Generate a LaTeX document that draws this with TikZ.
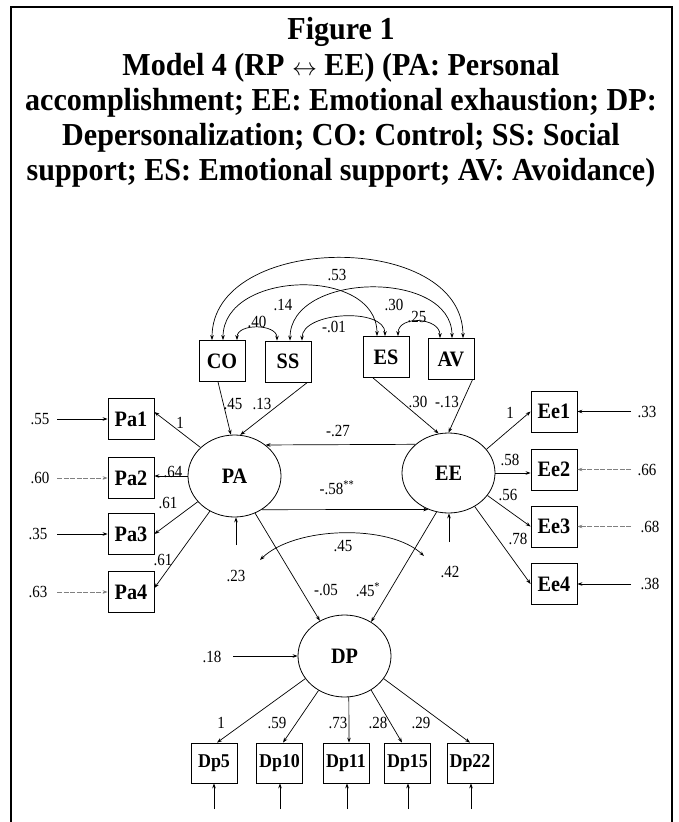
\documentclass[tikz,border=0pt]{standalone}
\usepackage{fontspec}
\setmainfont{Liberation Serif}
\newfontfamily\numf[FakeStretch=0.88]{Liberation Serif}
\newfontfamily\boxf[FakeStretch=0.92]{Liberation Serif}
\newfontfamily\ttlf[FakeStretch=0.94]{Liberation Serif}
\usetikzlibrary{arrows.meta,shapes.geometric,calc}
\begin{document}
\begin{tikzpicture}[x=1pt,y=-1pt,
 box/.style={draw,line width=0.8pt,minimum width=46pt,minimum height=41pt,inner sep=0pt,font=\boxf\bfseries\fontsize{22}{22}\selectfont},
 dpbox/.style={box,minimum height=40pt,font=\boxf\bfseries\fontsize{19.5}{19.5}\selectfont},
 lat/.style={ellipse,draw,line width=0.8pt,minimum width=93pt,minimum height=82pt,inner sep=0pt,font=\boxf\bfseries\fontsize{22}{22}\selectfont},
 num/.style={inner sep=1pt,font=\numf\fontsize{17}{17}\selectfont},
 arr/.style={line width=0.7pt,-{Stealth[length=5pt,width=3.6pt]}},
 darr/.style={line width=0.7pt,{Stealth[length=5pt,width=3.6pt]}-{Stealth[length=5pt,width=3.6pt]}},
 faint/.style={gray,dash pattern=on 5pt off 1.5pt},
 ttl/.style={anchor=base,inner sep=0pt,font=\ttlf\bfseries\fontsize{32}{35}\selectfont}]
\useasboundingbox (0,0) rectangle (678,822);
\draw[line width=2.4pt] (11.2,822) -- (11.2,7.2) -- (672,7.2) -- (672,822);
% title
\node[ttl] (t1) at (341,39.5) {Figure 1};
\node[ttl] (t2) at (341,75) {Model 4 (RP $\leftrightarrow$ EE) (PA: Personal};
\node[ttl] (t3) at (341,110) {accomplishment; EE: Emotional exhaustion; DP:};
\node[ttl] (t4) at (341,145) {Depersonalization; CO: Control; SS: Social};
\node[ttl] (t5) at (341,180) {support; ES: Emotional support; AV: Avoidance)};
% nodes
\node[box] (CO) at (222,361) {CO};
\node[box] (SS) at (288,361.5) {SS};
\node[box] (ES) at (386,357) {ES};
\node[box] (AV) at (451,359) {AV};
\node[lat] (PA) at (234.5,476) {PA};
\node[lat,minimum height=80pt] (EE) at (448.5,473) {EE};
\node[lat] (DP) at (344.5,656) {DP};
\node[box] (Pa1) at (131,419) {Pa1};
\node[box] (Pa2) at (131,478) {Pa2};
\node[box] (Pa3) at (131,534) {Pa3};
\node[box] (Pa4) at (131,592) {Pa4};
\node[box] (Ee1) at (554,411.5) {Ee1};
\node[box] (Ee2) at (554,469.5) {Ee2};
\node[box] (Ee3) at (554,526.5) {Ee3};
\node[box] (Ee4) at (554,584) {Ee4};
\node[dpbox] (Dp5) at (214,763) {Dp5};
\node[dpbox] (Dp10) at (279.5,763) {Dp10};
\node[dpbox] (Dp11) at (346,763) {Dp11};
\node[dpbox] (Dp15) at (407.5,763) {Dp15};
\node[dpbox] (Dp22) at (470,763) {Dp22};
% covariance arcs among predictors
\draw[darr] ([xshift=-10pt]CO.north) .. controls +(0,-108) and +(0,-108) .. ([xshift=12pt]AV.north);
\draw[darr] ([xshift=1pt]CO.north) .. controls +(0,-70) and +(0,-70) .. ([xshift=-9pt]ES.north);
\draw[darr] ([xshift=2pt]SS.north) .. controls +(0,-69) and +(0,-69) .. ([xshift=1pt]AV.north);
\draw[darr] ([xshift=15pt]CO.north) .. controls +(0,-17) and +(0,-17) .. ([xshift=-11pt]SS.north);
\draw[darr] ([xshift=14pt]SS.north) .. controls +(0,-29) and +(0,-29) .. ([xshift=-1pt]ES.north);
\draw[darr] ([xshift=12pt]ES.north) .. controls +(0,-21) and +(0,-21) .. ([xshift=-11pt]AV.north);
\node[num] (n53) at (337,275) {.53};
\node[num] (n14) at (283,305) {.14};
\node[num] (n30a) at (394,305) {.30};
\node[num] (n40) at (257,322) {.40};
\node[num] (n01) at (334,327) {-.01};
\node[num] (n25) at (417,317) {.25};
% predictors to latent
\draw[arr] ([xshift=-4pt]CO.south) -- (PA.95);
\draw[arr] ([xshift=-4pt]SS.south east) -- (PA.82);
\draw[arr] ([xshift=-13pt]ES.south) -- (EE.104);
\draw[arr] ([xshift=-2pt]AV.south east) -- (EE.north);
\node[num] (n45a) at (233,404) {.45};
\node[num] (n13a) at (262,404) {.13};
\node[num] (n30b) at (418,402) {.30};
\node[num] (n13b) at (447,402) {-.13};
% PA <-> EE
\draw[arr] (EE.139.5) -- (PA.45);
\draw[arr] (PA.-51) -- (EE.241);
\node[num] (n27) at (338,431) {-.27};
\node[num] (n58) at (337,488) {-.58\textsuperscript{**}};
% to DP
\draw[arr] (PA.-61) -- (DP.125);
\draw[arr] (EE.253) -- (DP.52);
\node[num] (n05) at (326,590) {-.05};
\node[num] (n45c) at (368,590) {.45\textsuperscript{*}};
% disturbances
\coordinate (zPA) at (236,545);
\coordinate (zEE) at (449,542);
\draw[arr] (zPA) -- (zPA |- PA.south);
\draw[arr] (zEE) -- (zEE |- EE.south);
\node[num] (n23) at (236,576) {.23};
\node[num] (n42) at (450,572) {.42};
\coordinate (c1) at (260,560);
\coordinate (c2) at (424,556);
\draw[darr] (c1) .. controls (295,526) and (390,524) .. (c2);
\node[num] (n45b) at (343,546) {.45};
\coordinate (s18) at (233,656);
\draw[arr] (s18) -- (DP.west);
\node[num] (n18) at (212,657) {.18};
% PA indicators
\draw[arr] (PA.140) -- ([yshift=7pt]Pa1.east);
\draw[arr] (PA.west) -- (PA.west -| Pa2.east);
\draw[arr] (PA.215) -- (Pa3.east);
\draw[arr] (PA.235) -- ([yshift=4pt]Pa4.east);
\node[num] (l1a) at (180,423) {1};
\node[num] (l64) at (173,472) {.64};
\node[num] (l61a) at (168,503) {.61};
\node[num] (l61b) at (163,560) {.61};
% EE indicators
\draw[arr] (EE.32) -- (Ee1.west);
\draw[arr] (EE.east) -- (EE.east -| Ee2.west);
\draw[arr] (EE.-30) -- (Ee3.west);
\draw[arr] (EE.-52) -- (Ee4.west);
\node[num] (l1b) at (510,413) {1};
\node[num] (l58) at (510,460) {.58};
\node[num] (l56) at (508,495) {.56};
\node[num] (l78) at (518,539) {.78};
% DP indicators
\draw[arr] (DP.210) -- ([xshift=3pt]Dp5.north);
\draw[arr] (DP.233) -- ([xshift=3.5pt]Dp10.north);
\draw[arr] (DP.-84) -- ([xshift=3pt]Dp11.north);
\draw[arr] (DP.-52) -- ([xshift=-5.5pt]Dp15.north);
\draw[arr] (DP.-30) -- (Dp22.north);
\node[num] (d1) at (221,723) {1};
\node[num] (d59) at (277,723) {.59};
\node[num] (d73) at (338,723) {.73};
\node[num] (d28) at (378,723) {.28};
\node[num] (d29) at (421,723) {.29};
% errors Pa
\coordinate (ePa1) at (57,419);
\coordinate (ePa2) at (57,478);
\coordinate (ePa3) at (57,534);
\coordinate (ePa4) at (57,592);
\draw[arr] (ePa1) -- (Pa1.west);
\draw[arr,faint] (ePa2) -- (Pa2.west);
\draw[arr] (ePa3) -- (Pa3.west);
\draw[arr,faint] (ePa4) -- (Pa4.west);
\node[num] (e55) at (40,419) {.55};
\node[num] (e60) at (40,478) {.60};
\node[num] (e35) at (38,534) {.35};
\node[num] (e63) at (38,592) {.63};
% errors Ee
\coordinate (eEe1) at (631,411.5);
\coordinate (eEe2) at (631,469.5);
\coordinate (eEe3) at (631,526.5);
\coordinate (eEe4) at (631,584);
\draw[arr] (eEe1) -- (Ee1.east);
\draw[arr,faint] (eEe2) -- (Ee2.east);
\draw[arr,faint] (eEe3) -- (Ee3.east);
\draw[arr] (eEe4) -- (Ee4.east);
\node[num] (e33) at (647,411.5) {.33};
\node[num] (e66) at (647,469.5) {.66};
\node[num] (e68) at (650,526.5) {.68};
\node[num] (e38) at (650,584) {.38};
% errors Dp
\coordinate (eD5) at (214,809);
\coordinate (eD10) at (280,809);
\coordinate (eD11) at (347,809);
\coordinate (eD15) at (408,809);
\coordinate (eD22) at (471,809);
\draw[arr] (eD5) -- (eD5 |- Dp5.south);
\draw[arr] (eD10) -- (eD10 |- Dp10.south);
\draw[arr] (eD11) -- (eD11 |- Dp11.south);
\draw[arr] (eD15) -- (eD15 |- Dp15.south);
\draw[arr] (eD22) -- (eD22 |- Dp22.south);
\end{tikzpicture}
\end{document}
